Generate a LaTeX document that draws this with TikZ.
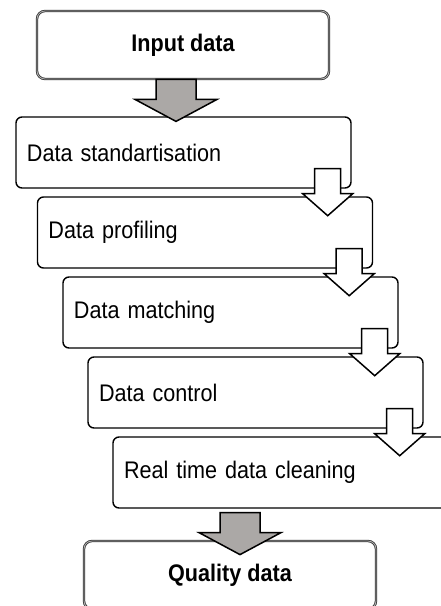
\documentclass[tikz,border=0pt]{standalone}
\usepackage{fontspec}
\setmainfont{Liberation Sans}[FakeStretch=0.9]
\definecolor{arrowgrey}{RGB}{171,168,166}
\tikzset{
  endbox/.style={draw=black!80, double=black!30, double distance=0.8pt, line width=0.8pt,
    rounded corners=8pt, minimum width=292pt, minimum height=68pt, font=\fontsize{24}{28}\selectfont\bfseries},
  stepbox/.style={draw, line width=1.4pt, rounded corners=6pt, minimum height=71pt,
    text width=313pt, inner xsep=11pt, align=left, font=\fontsize{24}{28}\selectfont},
  arrowline/.style={draw, line width=1.5pt, line join=miter},
  pics/greyarrow/.style={code={
    \draw[arrowline, fill=arrowgrey] (-20,0) -- (-20,-20) -- (-41,-20) -- (0,-42) -- (41,-20) -- (20,-20) -- (20,0) -- cycle;}},
  pics/whitearrow/.style={code={
    \draw[arrowline, fill=white] (-13,0) -- (-13,-25) -- (-25,-25) -- (0,-47) -- (25,-25) -- (13,-25) -- (13,0) -- cycle;}}
}
\begin{document}
\begin{tikzpicture}[x=1pt,y=1pt]
	\useasboundingbox (0,0) rectangle (441,-606);
	\node[endbox] (in) at (183,-45) {Input data};
	\node[stepbox] (s1) at (183.5,-152.5) {Data standartisation};
	\node[stepbox] (s2) at (205,-232.5) {Data profiling};
	\node[stepbox] (s3) at (230.5,-312.5) {Data matching};
	\node[stepbox] (s4) at (255.5,-392.5) {Data control};
	\node[stepbox] (s5) at (280.5,-472.5) {Real time data cleaning};
	\node[endbox] (out) at (230,-575) {Quality data};
	\pic at ([xshift=-7pt]in.south) {greyarrow};
	\foreach \s in {s1,s2,s3,s4}
		\pic at ([xshift=-24pt,yshift=20pt]\s.south east) {whitearrow};
	\pic at ([xshift=10pt,yshift=28pt]out.north) {greyarrow};
\end{tikzpicture}
\end{document}
